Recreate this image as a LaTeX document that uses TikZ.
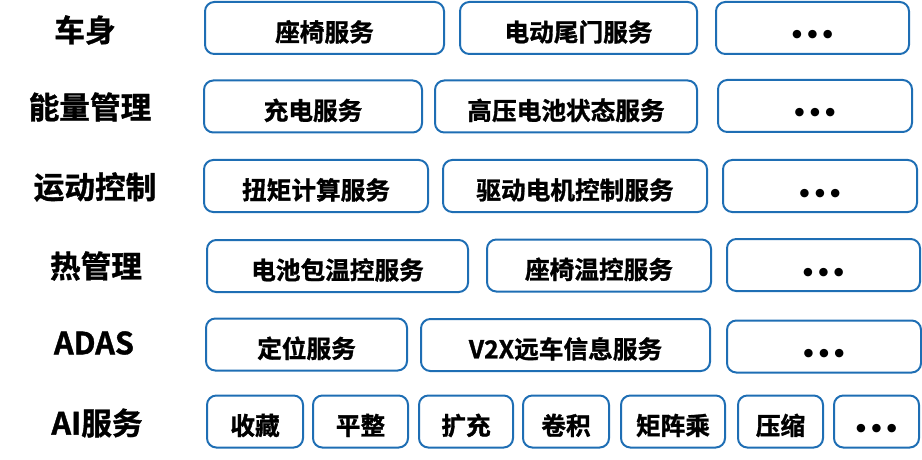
\documentclass[tikz,border=0pt]{standalone}
\usepackage{fontspec}
\setmainfont{Noto Sans CJK SC}[BoldFont=* Bold, BoldFeatures={FakeBold=1.2}]
\newfontfamily\dotfont{DejaVu Sans}
\usepackage{xcolor}
\definecolor{boxblue}{RGB}{30,110,180}

\begin{document}
\begin{tikzpicture}[x=0.75pt,y=0.75pt,yscale=-1,xscale=1,
    svc/.style={draw=boxblue, line width=1.5pt, rounded corners=7pt, fill=white,
        minimum height=39pt, inner sep=0pt, text height=20pt, text depth=0pt,
        font=\fontsize{18.5}{20}\selectfont\bfseries},
    more/.style={svc, text height=24pt, font=\fontsize{18}{20}\selectfont\dotfont\bfseries},
    bw/.style={minimum width=#1*0.75pt},
    cat/.style={inner sep=0pt, font=\fontsize{23}{26}\selectfont\bfseries}]
    \useasboundingbox (0,0) rectangle (922,460);

    % Row: 车身
    \node [cat] (catBody) at (85,30) {车身};
    \node [svc, bw=239] (body1) at (324.5,28) {座椅服务};
    \node [svc, bw=237] (body2) at (578.5,28) {电动尾门服务};
    \node [more, bw=193] (body3) at (812.5,28) {•••};

    % Row: 能量管理
    \node [cat] (catEnergy) at (90,107) {能量管理};
    \node [svc, bw=218] (energy1) at (313,106.5) {充电服务};
    \node [svc, bw=262] (energy2) at (566,106.5) {高压电池状态服务};
    \node [more, bw=194] (energy3) at (815,106) {•••};

    % Row: 运动控制
    \node [cat] (catMotion) at (95,187) {运动控制};
    \node [svc, bw=224] (motion1) at (316,186) {扭矩计算服务};
    \node [svc, bw=264] (motion2) at (575,186) {驱动电机控制服务};
    \node [more, bw=194] (motion3) at (820,186) {•••};

    % Row: 热管理
    \node [cat] (catThermal) at (96,266) {热管理};
    \node [svc, bw=261] (thermal1) at (337.5,266) {电池包温控服务};
    \node [svc, bw=224] (thermal2) at (599,265.5) {座椅温控服务};
    \node [more, bw=193] (thermal3) at (823.5,265) {•••};

    % Row: ADAS
    \node [cat] (catAdas) at (94,343) {ADAS};
    \node [svc, bw=201] (adas1) at (306.5,344.5) {定位服务};
    \node [svc, bw=289] (adas2) at (565.5,345) {V2X远车信息服务};
    \node [more, bw=194] (adas3) at (824,346.5) {•••};

    % Row: AI服务
    \node [cat] (catAi) at (97,423) {AI服务};
    \node [svc, bw=96] (ai1) at (255,421.5) {收藏};
    \node [svc, bw=95] (ai2) at (360.5,421.5) {平整};
    \node [svc, bw=94] (ai3) at (466,421.5) {扩充};
    \node [svc, bw=86] (ai4) at (566,421.5) {卷积};
    \node [svc, bw=104] (ai5) at (673,421.5) {矩阵乘};
    \node [svc, bw=85] (ai6) at (780.5,421.5) {压缩};
    \node [more, bw=85] (ai7) at (876.5,421.5) {•••};

\end{tikzpicture}
\end{document}
